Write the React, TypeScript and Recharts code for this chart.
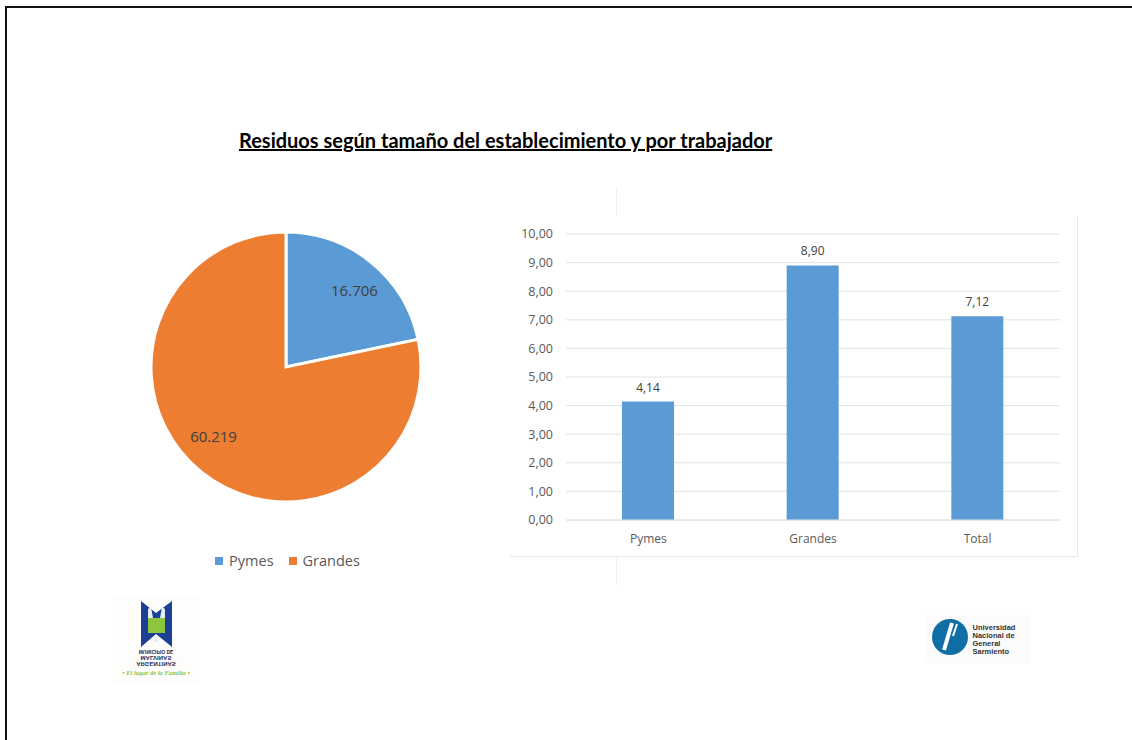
import { Bar, BarChart, CartesianGrid, Cell, LabelList, Legend, Pie, PieChart, XAxis, YAxis } from "recharts";

const pieNames = ["Pymes", "Grandes"];
const pieValues = [16706, 60219];
const pieLabels = ["16.706", "60.219"];
const pieColors = ["#5b9bd5", "#ed7d31"];

const barNames = ["Pymes", "Grandes", "Total"];
const barValues = [4.14, 8.9, 7.12];
const yTicks = [0, 1, 2, 3, 4, 5, 6, 7, 8, 9, 10];

const pieData = pieNames.map((name, i) => ({ name, value: pieValues[i], label: pieLabels[i] }));
const barData = barNames.map((name, i) => ({ name, value: barValues[i] }));

const font = "'Open Sans', sans-serif";
const comma = (v: number) => v.toFixed(2).replace(".", ",");

function PieLabel(props: any) {
  const { cx, cy, midAngle, outerRadius, index } = props;
  const r = outerRadius * 0.75;
  // the labels sit a little clockwise of the slice bisector
  const a = ((midAngle - 5) * Math.PI) / 180;
  return (
    <text x={cx + r * Math.cos(a) - 2} y={cy - r * Math.sin(a) - 4} textAnchor="middle" dominantBaseline="central" fontSize={15} fontFamily={font} fill="#404040">
      {pieLabels[index]}
    </text>
  );
}

function PieLegend() {
  return (
    <div style={{ display: "flex", justifyContent: "center", gap: 15, fontFamily: font, fontSize: 14.5, color: "#595959", paddingLeft: 3 }}>
      {pieNames.map((n, i) => (
        <span key={n} style={{ display: "flex", alignItems: "center", gap: 6 }}>
          <span style={{ width: 8, height: 8, background: pieColors[i], display: "inline-block" }} />
          {n}
        </span>
      ))}
    </div>
  );
}

function MalvinasLogo() {
  const lines = ["MUNICIPIO DE", "MALVINAS", "ARGENTINAS"];
  return (
    <svg style={{ position: "absolute", left: 112, top: 596 }} width={88} height={88}>
      <rect width={88} height={88} fill="#fdfdfb" />
      <path d="M29 5 L44 17 L60 5 L60 51 L44 38 L29 51 Z" fill="#1b3f94" />
      <rect x={36} y={22} width={17} height={15} fill="#8cc63f" />
      <path d="M36 22 L36 13 L39 11 L41 22 Z M48 22 L50 11 L53 13 L53 22 Z" fill="#e6edf5" />
      <path d="M41 46 L44 41 L47 46 Z" fill="#e6edf5" />
      <g textAnchor="middle" fontFamily="'Liberation Sans', sans-serif" fontWeight={700} fill="#1d2f5c">
        {lines.map((t, i) => (
          <text key={t} transform={`translate(44 ${54 + i * 6}) scale(1 -1)`} fontSize={i === 0 ? 5 : 6}>
            {t}
          </text>
        ))}
      </g>
      <text x={44} y={79} textAnchor="middle" fontSize={6.5} fontFamily="'Liberation Serif', serif" fontStyle="italic" fontWeight={700} fill="#8cc63f">
        • El lugar de la Familia •
      </text>
    </svg>
  );
}

function UngsLogo() {
  const lines = ["Universidad", "Nacional de", "General", "Sarmiento"];
  return (
    <svg style={{ position: "absolute", left: 925, top: 615 }} width={105} height={48}>
      <rect width={105} height={48} fill="#fbfbfb" />
      <circle cx={25} cy={22} r={18} fill="#0f6ea5" />
      <path d="M27 8 L19 35" stroke="#fff" strokeWidth={4} />
      <path d="M32 9 L28 21" stroke="#fff" strokeWidth={2} />
      <g fontFamily="'Liberation Sans', sans-serif" fontWeight={700} fontSize={7.5} fill="#333">
        {lines.map((t, i) => (
          <text key={t} x={47.5} y={15 + i * 8}>
            {t}
          </text>
        ))}
      </g>
    </svg>
  );
}

export default function App() {
  return (
    <div style={{ position: "absolute", left: 0, top: 0, width: 1132, height: 740, background: "#fff", overflow: "hidden" }}>
      <div style={{ position: "absolute", left: 5, top: 6, width: 1127, height: 734, borderTop: "2px solid #111", borderLeft: "2px solid #111", boxSizing: "border-box" }} />

      <div style={{ position: "absolute", left: 239, top: 128, fontFamily: "Lato, sans-serif", fontWeight: 700, fontSize: 20, color: "#000", textDecoration: "underline", whiteSpace: "nowrap" }}>
        Residuos según tamaño del establecimiento y por trabajador
      </div>

      <div style={{ position: "absolute", left: 136, top: 216 }}>
        <PieChart width={300} height={364} margin={{ top: 0, right: 0, bottom: 0, left: 0 }}>
          <Pie
            data={pieData}
            dataKey="value"
            nameKey="name"
            cx={150}
            cy={151}
            outerRadius={135}
            startAngle={90}
            endAngle={-270}
            stroke="#fff"
            strokeWidth={3}
            label={PieLabel}
            labelLine={false}
            isAnimationActive={false}
          >
            {pieNames.map((n, i) => (
              <Cell key={n} fill={pieColors[i]} />
            ))}
          </Pie>
          <Legend verticalAlign="bottom" content={PieLegend} wrapperStyle={{ bottom: 10 }} />
        </PieChart>
      </div>

      <div style={{ position: "absolute", left: 616, top: 188, width: 1, height: 28, background: "#eeeeee" }} />
      <div style={{ position: "absolute", left: 616, top: 557, width: 1, height: 28, background: "#eeeeee" }} />
      <div style={{ position: "absolute", left: 510, top: 216, width: 568, height: 341, borderRight: "1px solid #e6e6e6", borderBottom: "1px solid #e6e6e6", boxSizing: "border-box" }}>
        <BarChart width={567} height={340} data={barData} margin={{ top: 18, right: 17, bottom: 0, left: 0 }} barSize={52}>
          <CartesianGrid vertical={false} stroke="#e2e2e2" />
          <XAxis
            dataKey="name"
            height={36}
            tickLine={false}
            axisLine={{ stroke: "#e2e2e2" }}
            tickMargin={8}
            tick={{ fontSize: 12, fontFamily: font, fill: "#595959" }}
          />
          <YAxis
            width={56}
            domain={[0, 10]}
            ticks={yTicks}
            interval={0}
            axisLine={false}
            tickLine={false}
            tickMargin={7}
            tickFormatter={comma}
            tick={{ fontSize: 12.5, fontFamily: font, fill: "#595959" }}
          />
          <Bar dataKey="value" fill={pieColors[0]} isAnimationActive={false}>
            <LabelList dataKey="value" position="top" offset={10} formatter={(v: any) => comma(Number(v))} style={{ fontSize: 12, fontFamily: font, fill: "#404040" }} />
          </Bar>
        </BarChart>
      </div>

      <MalvinasLogo />
      <UngsLogo />
    </div>
  );
}
